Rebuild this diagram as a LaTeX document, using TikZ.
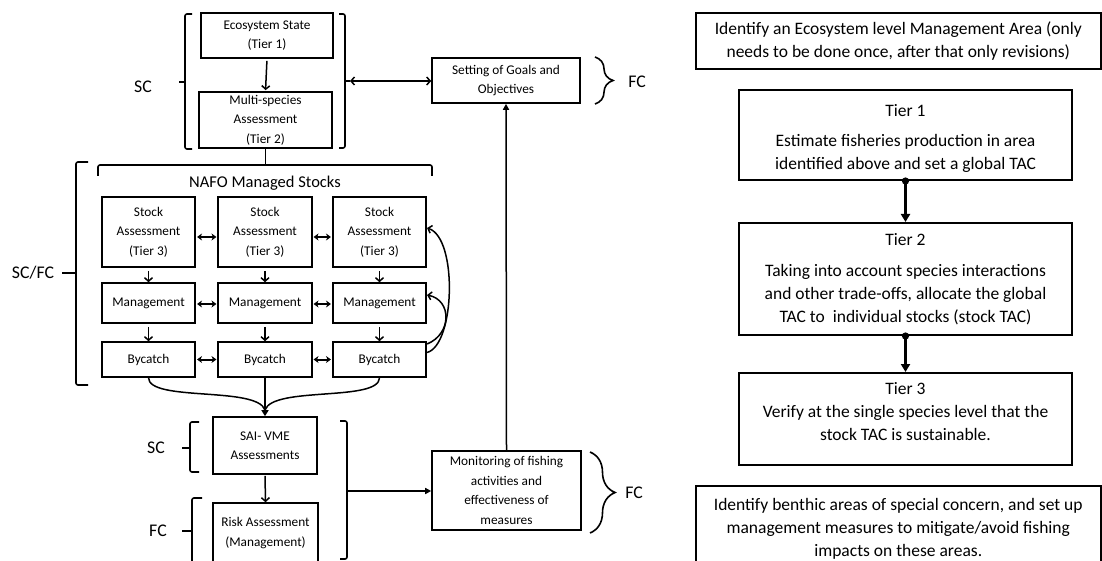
\documentclass[tikz,border=0pt]{standalone}
\usepackage{fontspec}
\setmainfont{Carlito}
\usetikzlibrary{arrows.meta,decorations.pathreplacing}

\begin{document}
\begin{tikzpicture}[x=1pt,y=-1pt,
  lbox/.style={draw, line width=1.6pt, inner sep=0pt, align=center,
    font=\fontsize{13.3}{19.5}\selectfont},
  rbox/.style={draw, line width=2pt, inner sep=0pt, align=center,
    font=\fontsize{17.5}{23}\selectfont},
  rtext/.style={inner sep=0pt, align=center, font=\fontsize{17.5}{23}\selectfont},
  lab/.style={font=\fontsize{17.8}{20}\selectfont, inner sep=0pt},
  brk/.style={line width=1.6pt, rounded corners=2pt},
  curly/.style={line width=1.6pt, decorate, decoration={brace, amplitude=#1}},
  conn/.style={line width=1.5pt},
  barb/.style={conn, -{Straight Barb[length=3.5pt,width=8pt,line width=1.5pt]}, shorten <=2pt},
  tri/.style={conn, -{Triangle[length=6pt,width=6pt]}},
  dbl/.style={line width=2pt, {Stealth[length=5pt,width=7pt]}-{Stealth[length=5pt,width=7pt]}, shorten <=1pt, shorten >=1pt},
  rarr/.style={line width=2.5pt, {Circle[length=7pt]}-{Triangle[length=8pt,width=9pt]}, shorten <=-3.5pt}
]
\useasboundingbox (0,0) rectangle (1102,561);
\fill[white] (0,0) rectangle (1102,561);
\clip (0,0) rectangle (1102,561);

% ---------- upper part: ecosystem and multi-species ----------
\node[lbox, minimum width=132pt, minimum height=45pt] (eco) at (267,35.5) {Ecosystem State\\(Tier 1)};
\node[lbox, minimum width=133pt, minimum height=56pt] (multi) at (265.5,120) {Multi-species\\Assessment\\(Tier 2)};
\node[lbox, minimum width=148pt, minimum height=45pt] (goals) at (506,80.5) {Setting of Goals and\\Objectives};
\draw[barb, shorten >=1pt] (eco.south) -- (multi.north);

% SC brackets around the upper pair
\draw[brk] (192,14) -- (185,14) -- (185,149) -- (192,149);
\draw[brk] (185,82) -- (179,82);
\draw[brk] (339,14) -- (345,14) -- (345,148) -- (339,148);
\coordinate (scr) at (345,81);
\draw[conn, {Straight Barb[length=3.5pt,width=8pt,line width=1.5pt]}-{Straight Barb[length=3.5pt,width=8pt,line width=1.5pt]}, shorten <=5pt]
  (scr) -- (scr -| goals.west);
\draw[brk] (345,81) -- (350,81);
\node[lab] (lsc1) at (143,87) {SC};

% FC brace at the goals box
\draw[curly=18pt] (595,57) -- (595,104);
\node[lab] (lfc1) at (637,82) {FC};

% ---------- NAFO managed stocks ----------
\draw[brk] (98,176) -- (98,165) -- (432,165) -- (432,176);
\draw[conn] (multi.south) -- (multi.south |- 0,165);
\node[font=\fontsize{16.5}{20}\selectfont, inner sep=0pt] (nafo) at (265,183) {NAFO Managed Stocks};

\draw[brk] (88,162) -- (76,162) -- (76,385) -- (88,385);
\draw[brk] (76,273) -- (62,273);
\node[lab] (lscfc) at (33,273) {SC/FC};

\foreach \i/\x in {1/148.5, 2/265, 3/379.5} {
  \node[lbox, minimum width=93.5pt, minimum height=70pt] (sa\i) at (\x,232) {Stock\\Assessment\\(Tier 3)};
  \node[lbox, minimum width=93.5pt, minimum height=40pt] (mg\i) at (\x,303) {Management};
  \node[lbox, minimum width=93.5pt, minimum height=35pt] (by\i) at (\x,359.5) {Bycatch};
  \draw[barb, shorten <=3pt] (sa\i.south) -- (mg\i.north);
  \draw[barb, shorten <=3pt] (mg\i.south) -- (by\i.north);
}
\foreach \a/\b in {1/2, 2/3} {
  \draw[dbl] ([yshift=-5pt]sa\a.east) -- ([yshift=-5pt]sa\b.west);
  \draw[dbl] ([yshift=-1pt]mg\a.east) -- ([yshift=-1pt]mg\b.west);
  \draw[dbl] (by\a.east) -- (by\b.west);
}

% feedback from bycatch to the upper rows of the third stock
\draw[conn, -{Straight Barb[length=3.5pt,width=8pt,line width=1.5pt]}]
  ([yshift=7pt]by3.east) .. controls (455,345) and (458,238) .. ([yshift=4pt]sa3.east);
\draw[conn, -{Straight Barb[length=3.5pt,width=8pt,line width=1.5pt]}]
  ([yshift=15.5pt]by3.east) .. controls (452,334) and (452,300) .. ([yshift=8pt]mg3.east);

% ---------- SAI / VME ----------
\node[lbox, minimum width=104pt, minimum height=57pt] (sai) at (265,445.5) {SAI- VME\\Assessments};
\node[lbox, minimum width=105pt, minimum height=60pt] (risk) at (265.5,533) {Risk Assessment\\(Management)};
\coordinate (join) at (265,410);
\draw[conn] (by1.south) .. controls (149,402) and (257,386) .. (join);
\draw[conn] (by3.south) .. controls (379,402) and (273,386) .. (join);
\draw[conn, -{Triangle[length=6pt,width=7pt]}] (by2.south) -- (sai.north);
\draw[barb, shorten <=1pt] (sai.south) -- (risk.north);

\draw[brk] (199,422) -- (190,422) -- (190,472) -- (199,472);
\draw[brk] (190,448) -- (182,448);
\node[lab] (lsc2) at (156,448) {SC};
\draw[brk] (202,498) -- (192,498) -- (192,575);
\draw[brk] (192,531) -- (182,531);
\node[lab] (lfc2) at (158,531) {FC};

\draw[brk] (340,421) -- (347,421) -- (347,559) -- (340,559);
\node[lbox, minimum width=149pt, minimum height=79pt] (mon) at (506.5,490.5)
  {Monitoring of fishing\\activities and\\effectiveness of\\measures};
\coordinate (rbk) at (347,491);
\draw[tri] (rbk) -- (rbk -| mon.west);
\draw[tri] (mon.north) -- (goals.south);
\draw[curly=25pt] (590,452) -- (590,533);
\node[lab] (lfc3) at (634,493) {FC};

% ---------- tiered procedure ----------
\node[rbox, minimum width=404.5pt, minimum height=56pt] (area) at (898.25,41)
  {Identify an Ecosystem level Management Area (only\\needs to be done once, after that only revisions)};
\node[rbox, minimum width=333pt, minimum height=90pt] (t1) at (905.5,135) {};
\node[rtext] (t1txt) at (905.5,138)
  {Tier 1\\[7pt]Estimate fisheries production in area\\identified above and set a global TAC};
\node[rbox, minimum width=333pt, minimum height=112pt] (t2) at (905.5,279)
  {Tier 2\\[8pt]Taking into account species interactions\\and other trade-offs, allocate the global\\TAC to\ \ individual stocks (stock TAC)};
\node[rbox, minimum width=333pt, minimum height=92pt] (t3) at (905.5,419) {};
\node[rtext] (t3txt) at (905.5,412)
  {Tier 3\\Verify at the single species level that the\\stock TAC is sustainable.};
\node[rbox, minimum width=404.5pt, minimum height=86pt] (benthic) at (898.25,529)
  {Identify benthic areas of special concern, and set up\\management measures to mitigate/avoid fishing\\impacts on these areas.};
\draw[rarr] (t1.south) -- (t2.north);
\draw[rarr] (t2.south) -- (t3.north);
\end{tikzpicture}
\end{document}
